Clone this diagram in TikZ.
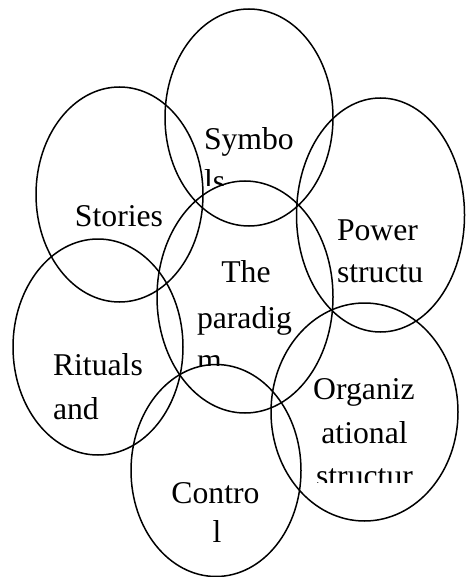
\documentclass[tikz,border=0pt]{standalone}
\usepackage{fontspec}
\setmainfont{Liberation Serif}
\usetikzlibrary{shapes.geometric}
\begin{document}
\begin{tikzpicture}[x=1pt,y=-1pt,
  ell/.style={draw, ellipse, line width=1.5pt, inner sep=0pt, outer sep=0pt},
  lbl/.style={inner sep=0pt, outer sep=0pt, font=\fontsize{31.7}{38}\selectfont}]
\useasboundingbox (0,0) rectangle (465,577);
% ellipses
\node[ell, minimum width=168pt, minimum height=217pt] (symbols) at (249,117.5) {};
\node[ell, minimum width=167pt, minimum height=215pt] (stories) at (119.5,194.5) {};
\node[ell, minimum width=168pt, minimum height=234pt] (power) at (380.5,215) {};
\node[ell, minimum width=176pt, minimum height=232pt] (paradigm) at (245,297) {};
\node[ell, minimum width=170pt, minimum height=216pt] (rituals) at (98,347) {};
\node[ell, minimum width=170pt, minimum height=212pt] (control) at (216,470.5) {};
\node[ell, minimum width=187pt, minimum height=218pt] (org) at (364.5,412) {};
% texts
\node[lbl, anchor=base west] (t1a) at (204,150) {Symbo};
\begin{scope}
  \clip (150,150) rectangle (300,186);
  \node[lbl, anchor=base west] (t1b) at (204,192) {ls};
\end{scope}
\node[lbl, anchor=base] (t2) at (119,226) {Stories};
\node[lbl, anchor=base] (t3a) at (246,282) {The};
\node[lbl, anchor=base west] (t3b) at (197,328) {paradig};
\begin{scope}
  \clip (150,330) rectangle (300,365);
  \node[lbl, anchor=base west] (t3c) at (197,370) {m};
\end{scope}
\node[lbl, anchor=base west] (t4a) at (337,240.7) {Power};
\node[lbl, anchor=base west] (t4b) at (337,282.7) {structu};
\node[lbl, anchor=base west] (t5a) at (53,375) {Rituals};
\node[lbl, anchor=base west] (t5b) at (53,419) {and};
\node[lbl, anchor=base] (t6a) at (364,399.5) {Organiz};
\node[lbl, anchor=base] (t6b) at (364.5,443) {ational};
\begin{scope}
  \clip (300,440) rectangle (440,482.5);
  \node[lbl, anchor=base] (t6c) at (364.5,486) {structur};
\end{scope}
\node[lbl, anchor=base] (t7a) at (215.5,503) {Contro};
\node[lbl, anchor=base] (t7b) at (217,542) {l};
\end{tikzpicture}
\end{document}
